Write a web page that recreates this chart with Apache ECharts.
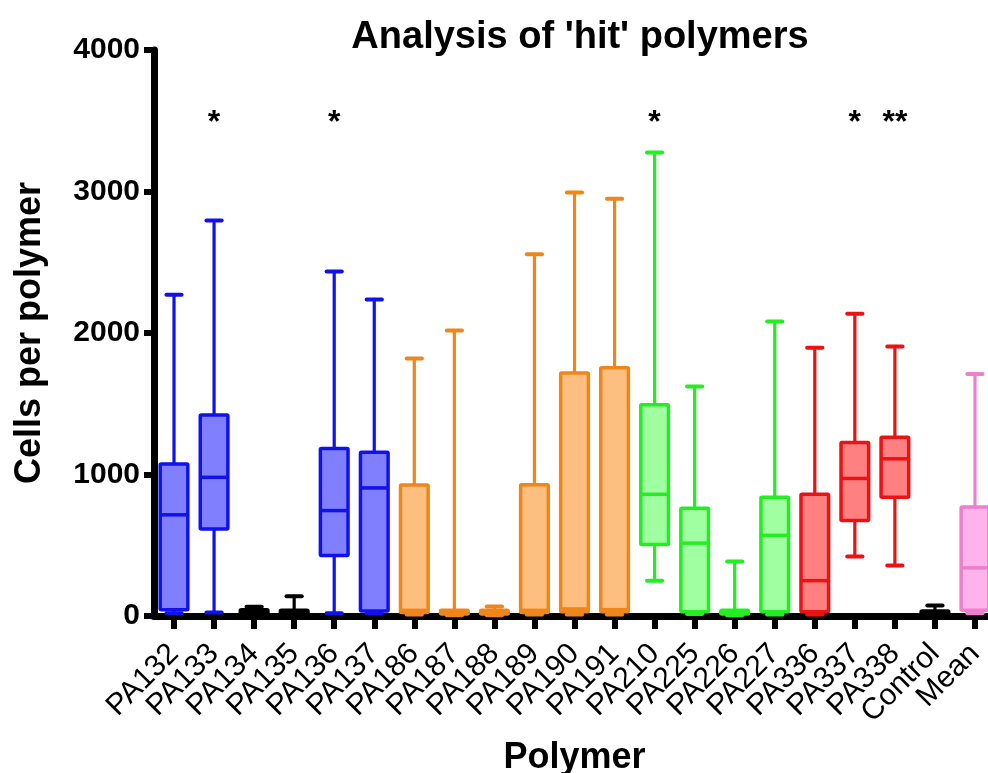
<!DOCTYPE html>
<html>
<head>
<meta charset="utf-8">
<script src="https://cdn.jsdelivr.net/npm/echarts@6/dist/echarts.min.js"></script>
<style>
html,body{margin:0;padding:0;background:#fff;}
#chart{width:988px;height:773px;}
</style>
</head>
<body>
<div id="chart"></div>
<script>
const categories = ['PA132','PA133','PA134','PA135','PA136','PA137','PA186','PA187','PA188','PA189','PA190','PA191','PA210','PA225','PA226','PA227','PA336','PA337','PA338','Control','Mean'];
const whiskerLow  = [20, 25, 5, 5, 20, 20, 10, 5, 5, 10, 10, 10, 250, 15, 5, 10, 10, 420, 357, 5, 20];
const quartile1   = [45, 615, 15, 10, 428, 35, 25, 15, 15, 25, 30, 30, 505, 30, 15, 30, 30, 675, 840, 10, 40];
const medians     = [715, 980, 30, 20, 745, 905, 40, 25, 25, 40, 50, 45, 860, 515, 25, 570, 250, 972, 1111, 20, 340];
const quartile3   = [1075, 1420, 45, 40, 1184, 1158, 925, 40, 40, 928, 1718, 1755, 1493, 762, 40, 840, 860, 1226, 1264, 35, 770];
const whiskerHigh = [2270, 2795, 65, 140, 2435, 2237, 1820, 2018, 68, 2557, 2993, 2948, 3276, 1622, 385, 2081, 1895, 2136, 1905, 74, 1710];
const significance = ['', '*', '', '', '*', '', '', '', '', '', '', '', '*', '', '', '', '', '*', '**', '', ''];
const significanceLevel = 3480;
const yTicks = [0, 1000, 2000, 3000, 4000];

const groupOf = ['blue','blue','black','black','blue','blue','orange','orange','orange','orange','orange','orange','green','green','green','green','red','red','red','black','pink'];
const palette = {
  blue:   {stroke:'#1111EE', fill:'#8080FF'},
  black:  {stroke:'#000000', fill:'#000000'},
  orange: {stroke:'#F0861A', fill:'#FDBF80'},
  green:  {stroke:'#22EE22', fill:'#A0FFA0'},
  red:    {stroke:'#EE1111', fill:'#FF8080'},
  pink:   {stroke:'#EE7FCC', fill:'#FFB3EC'}
};

const boxData = categories.map((c, i) => [i, whiskerLow[i], quartile1[i], medians[i], quartile3[i], whiskerHigh[i]]);
const starData = categories.map((c, i) => [i, significanceLevel, significance[i]]);

const chart = echarts.init(document.getElementById('chart'), null, {renderer:'canvas'});
const FONT = 'Liberation Sans, Arial, sans-serif';

chart.setOption({
  backgroundColor: '#ffffff',
  animation: false,
  title: {
    text: "Analysis of 'hit' polymers",
    left: 575,
    textAlign: 'center',
    top: 14,
    textStyle: {fontFamily: FONT, fontWeight: 'bold', fontSize: 38, color: '#000'}
  },
  grid: {left: 154, right: -7, top: 50, bottom: 157, containLabel: false, outerBoundsMode: 'none'},
  xAxis: {
    type: 'category',
    data: categories,
    boundaryGap: true,
    name: 'Polymer',
    nameLocation: 'middle',
    nameGap: 124,
    nameTextStyle: {fontFamily: FONT, fontWeight: 'bold', fontSize: 36, color: '#000'},
    axisLine: {show: true, onZero: false, lineStyle: {color: '#000', width: 7}},
    axisTick: {show: true, alignWithLabel: true, length: 13, lineStyle: {color: '#000', width: 6}},
    axisLabel: {rotate: 45, margin: 33, fontFamily: FONT, fontSize: 30, color: '#000', interval: 0, hideOverlap: false},
    splitLine: {show: false}
  },
  yAxis: {
    type: 'value',
    min: 0, max: 4000, interval: 1000,
    name: 'Cells per polymer',
    nameLocation: 'middle',
    nameGap: 106,
    nameTextStyle: {fontFamily: FONT, fontWeight: 'bold', fontSize: 36, color: '#000'},
    axisLine: {show: true, lineStyle: {color: '#000', width: 7}},
    axisTick: {show: true, length: 10, lineStyle: {color: '#000', width: 6}},
    axisLabel: {margin: 14, fontFamily: FONT, fontWeight: 'bold', fontSize: 30, color: '#000',
      formatter: v => yTicks.indexOf(v) >= 0 ? String(v) : ''},
    splitLine: {show: false}
  },
  series: [
    {
      type: 'custom',
      data: boxData,
      encode: {x: 0, y: [1,2,3,4,5]},
      z: 1,
      renderItem: function (params, api) {
        const i = api.value(0);
        const pLo = api.coord([i, api.value(1)]);
        const pQ1 = api.coord([i, api.value(2)]);
        const pMed = api.coord([i, api.value(3)]);
        const pQ3 = api.coord([i, api.value(4)]);
        const pHi = api.coord([i, api.value(5)]);
        const band = api.size([1, 0])[0];
        const boxW = band * 0.69;
        const capW = band * 0.38;
        const cx = pLo[0];
        const col = palette[groupOf[i]];
        const ls = {stroke: col.stroke, lineWidth: 3.2, lineCap: 'round'};
        const capS = {stroke: col.stroke, lineWidth: 4, lineCap: 'round'};
        return {
          type: 'group',
          children: [
            {type: 'line', shape: {x1: cx, y1: pQ3[1], x2: cx, y2: pHi[1]}, style: ls},
            {type: 'line', shape: {x1: cx, y1: pQ1[1], x2: cx, y2: pLo[1]}, style: ls},
            {type: 'line', shape: {x1: cx - capW/2, y1: pHi[1], x2: cx + capW/2, y2: pHi[1]}, style: capS},
            {type: 'line', shape: {x1: cx - capW/2, y1: pLo[1], x2: cx + capW/2, y2: pLo[1]}, style: capS},
            {type: 'rect', shape: {x: cx - boxW/2, y: pQ3[1], width: boxW, height: pQ1[1] - pQ3[1], r: 1},
              style: {fill: col.fill, stroke: col.stroke, lineWidth: 3.5}},
            {type: 'line', shape: {x1: cx - boxW/2, y1: pMed[1], x2: cx + boxW/2, y2: pMed[1]}, style: {stroke: col.stroke, lineWidth: 3.5}}
          ]
        };
      }
    },
    {
      type: 'custom',
      data: starData,
      encode: {x: 0, y: 1},
      z: 2,
      renderItem: function (params, api) {
        const i = api.value(0);
        const p = api.coord([i, api.value(1)]);
        return {
          type: 'text',
          x: p[0], y: p[1],
          style: {text: significance[i], fill: '#000', font: 'bold 32px ' + FONT, align: 'center', verticalAlign: 'middle'}
        };
      }
    }
  ]
});
</script>
</body>
</html>
